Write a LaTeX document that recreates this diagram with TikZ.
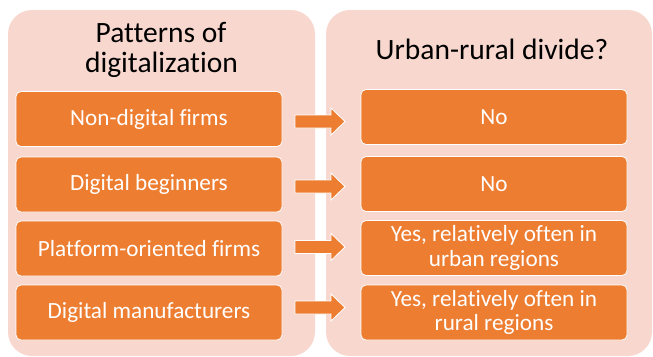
\documentclass[tikz,border=0pt]{standalone}
\usepackage{fontspec}
\setmainfont{Carlito}[Ligatures={NoCommon,NoContextual}]
\definecolor{panelfill}{RGB}{248,216,206}
\definecolor{boxorange}{RGB}{237,125,49}
\begin{document}
\begin{tikzpicture}[x=1pt,y=-1pt,
  panel/.style={fill=panelfill, rounded corners=24pt},
  itembox/.style={draw=white, line width=0.8pt, fill=boxorange, rounded corners=5pt,
    text=white, font=\fontsize{23.2}{24.5}\selectfont, align=center, inner sep=0pt,
    minimum width=266pt, minimum height=55pt},
  header/.style={font=\fontsize{29.5}{30}\selectfont, align=center, text=black, inner sep=0pt},
  bigarrow/.style={draw=white, line width=0.8pt, fill=boxorange},
  blockarr/.pic={\draw[bigarrow] (-25,-6.5) -- (11,-6.5) -- (11,-13.5) -- (25,0) -- (11,13.5) -- (11,6.5) -- (-25,6.5) -- cycle;}]
\useasboundingbox (0,0) rectangle (653,356);
% panels
\fill[panel] (8,10) rectangle (315,356);
\fill[panel] (326,10) rectangle (652,356);
% headers
\node[header, anchor=base] (h1a) at (161,42.7) {Patterns of};
\node[header, anchor=base] (h1b) at (161.5,72.3) {digitalization};
\node[header, anchor=base] (h2) at (492,59.3) {Urban-rural divide?};
% left boxes
\node[itembox] (l1) at (149,119) {Non-digital firms};
\node[itembox] (l2) at (149,184.5) {Digital beginners};
\node[itembox] (l3) at (149,248.5) {Platform-oriented firms};
\node[itembox] (l4) at (149,312.5) {Digital manufacturers};
% right boxes
\node[itembox] (r1) at (494,117) {No};
\node[itembox] (r2) at (494,184) {No};
\node[itembox] (r3) at (494,248) {Yes, relatively often in\\urban regions};
\node[itembox] (r4) at (494,312.5) {Yes, relatively often in\\rural regions};
% arrows
\pic at (320,121.5) {blockarr};
\pic at (320,186.5) {blockarr};
\pic at (320,247) {blockarr};
\pic at (320,307.5) {blockarr};
\end{tikzpicture}
\end{document}
